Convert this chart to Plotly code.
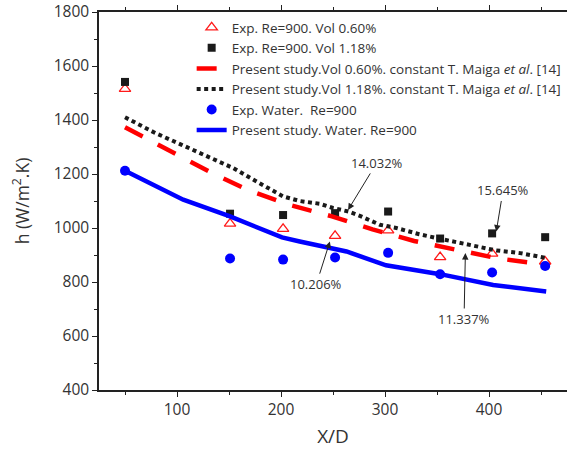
import plotly.graph_objects as go

# ---- data ----
x_exp = [50, 151, 202, 252, 303, 353, 403, 454]
h_exp_060 = [1515, 1016, 997, 971, 991, 892, 905, 876]
h_exp_118 = [1541, 1053, 1048, 1055, 1061, 961, 980, 966]
h_exp_water = [1212, 887, 883, 891, 908, 829, 835, 859]

x_sim_060 = [50, 95, 132, 169, 208, 249, 288, 328, 369, 409, 452]
h_sim_060 = [1373, 1282, 1207, 1139, 1086, 1043, 995, 952, 917, 887, 866]

x_sim_118 = [50, 79, 104, 130, 154, 178, 202, 218, 237, 250, 265, 277, 295, 311, 333, 353, 372, 391, 407, 430, 455]
h_sim_118 = [1410, 1352, 1309, 1265, 1222, 1169, 1117, 1100, 1090, 1074, 1061, 1043, 1012, 1000, 977, 960, 944, 929, 917, 907, 889]

x_sim_water = [50, 106, 151, 201, 218, 243, 263, 301, 353, 404, 455]
h_sim_water = [1212, 1105, 1043, 965, 950, 931, 913, 862, 829, 789, 765]

ann_text = ["14.032%", "15.645%", "10.206%", "11.337%"]
ann_tip_x = [264.5, 407, 247, 377.3]
ann_tip_y = [1067, 987, 950, 907]
ann_txt_x = [292, 413.5, 234, 376]
ann_txt_y = [1241, 1139, 792, 663]

FONT = "Open Sans"
TXT = "#333333"

fig = go.Figure()
fig.add_trace(go.Scatter(x=x_exp, y=h_exp_060, mode="markers",
                         name="Exp. Re=900. Vol 0.60%",
                         marker=dict(symbol="triangle-up-open", color="#ff1a1a", size=10, line=dict(width=1.3))))
fig.add_trace(go.Scatter(x=x_exp, y=h_exp_118, mode="markers",
                         name="Exp. Re=900. Vol 1.18%",
                         marker=dict(symbol="square", color="#1a1a1a", size=8)))
fig.add_trace(go.Scatter(x=x_sim_060, y=h_sim_060, mode="lines",
                         name="Present study.Vol 0.60%. constant T. Maiga <i>et al</i>. [14]",
                         line=dict(color="#ff0000", width=4.5, dash="20px,17px")))
fig.add_trace(go.Scatter(x=x_sim_118, y=h_sim_118, mode="lines",
                         name="Present study.Vol 1.18%. constant T. Maiga <i>et al</i>. [14]",
                         line=dict(color="#1a1a1a", width=4, dash="4px,3.5px")))
fig.add_trace(go.Scatter(x=x_exp, y=h_exp_water, mode="markers",
                         name="Exp. Water.  Re=900",
                         marker=dict(symbol="circle", color="#0000ff", size=10)))
fig.add_trace(go.Scatter(x=x_sim_water, y=h_sim_water, mode="lines",
                         name="Present study. Water. Re=900",
                         line=dict(color="#0000ff", width=4.5)))

for t, tx, ty, ax, ay in zip(ann_text, ann_tip_x, ann_tip_y, ann_txt_x, ann_txt_y):
    fig.add_annotation(x=tx, y=ty, ax=ax, ay=ay, axref="x", ayref="y", xref="x", yref="y",
                       text=t, showarrow=True, arrowhead=2, arrowsize=1.3, arrowwidth=1,
                       arrowcolor="#222222", font=dict(family=FONT, size=13, color=TXT),
                       borderpad=1)

axis_common = dict(showline=True, linecolor="#222222", linewidth=1.5,
                   ticks="outside", ticklen=5, tickwidth=1.2, tickcolor="#222222",
                   showgrid=False, zeroline=False,
                   tickfont=dict(family=FONT, size=15.5, color=TXT))

fig.update_xaxes(range=[25, 475], tickvals=[100, 200, 300, 400], mirror="ticks",
                 minor=dict(tickvals=[50, 150, 250, 350, 450], ticks="outside", ticklen=3, tickcolor="#222222"),
                 title=dict(text="X/D", font=dict(family=FONT, size=19, color=TXT), standoff=10),
                 **axis_common)
fig.update_yaxes(range=[400, 1800], tickvals=[400, 600, 800, 1000, 1200, 1400, 1600, 1800], mirror=False,
                 minor=dict(tickvals=[500, 700, 900, 1100, 1300, 1500, 1700], ticks="outside", ticklen=3, tickcolor="#222222"),
                 title=dict(text="h (W/m<sup>2</sup>.K)", font=dict(family=FONT, size=17.5, color=TXT), standoff=20),
                 **axis_common)

fig.update_layout(
    width=567, height=451,
    margin=dict(l=99, r=0, t=12, b=61),
    plot_bgcolor="white", paper_bgcolor="white",
    showlegend=True,
    legend=dict(x=0.198, y=1.0, xanchor="left", yanchor="top", bgcolor="rgba(0,0,0,0)",
                font=dict(family=FONT, size=13.5, color=TXT), tracegroupgap=0, itemwidth=30),
)

fig.write_html("out.html")
